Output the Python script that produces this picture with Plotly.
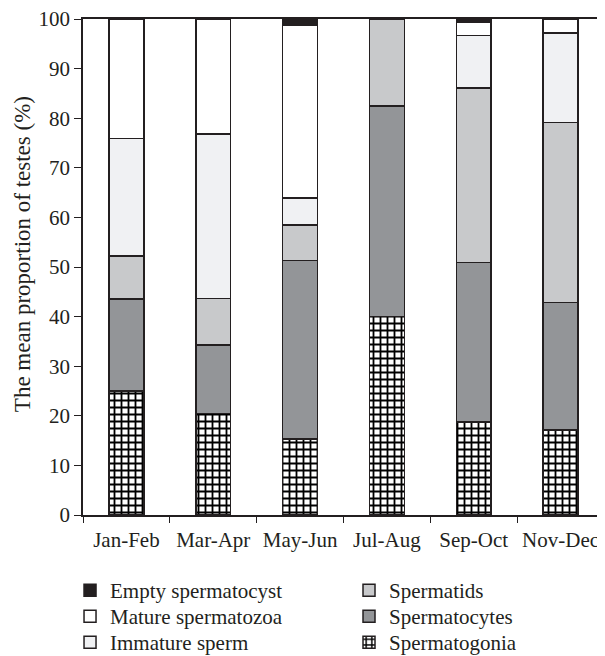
import plotly.graph_objects as go

categories = ["Jan-Feb", "Mar-Apr", "May-Jun", "Jul-Aug", "Sep-Oct", "Nov-Dec"]
spermatogonia = [25.0, 20.5, 15.3, 40.0, 18.8, 17.1]
spermatocytes = [18.5, 13.8, 36.0, 42.5, 32.1, 25.7]
spermatids = [8.7, 9.4, 7.2, 17.5, 35.2, 36.3]
immature_sperm = [23.7, 33.1, 5.4, 0.0, 10.6, 18.1]
mature_spermatozoa = [24.1, 23.2, 34.9, 0.0, 2.6, 2.8]
empty_spermatocyst = [0.0, 0.0, 1.2, 0.0, 0.7, 0.0]

edge = "#231f20"
font_family = "Liberation Serif"

# name, values, fill, legend id, patterned
series = [
    ("Spermatogonia", spermatogonia, "#ffffff", "legend6", True),
    ("Spermatocytes", spermatocytes, "#939598", "legend5", False),
    ("Spermatids", spermatids, "#c8c9cb", "legend4", False),
    ("Immature sperm", immature_sperm, "#f0f1f3", "legend3", False),
    ("Mature spermatozoa", mature_spermatozoa, "#ffffff", "legend2", False),
    ("Empty spermatocyst", empty_spermatocyst, edge, "legend", False),
]

fig = go.Figure()
for name, vals, color, leg, patterned in series:
    marker = dict(color=color, line=dict(color=edge, width=1.5))
    if patterned:
        marker["pattern"] = dict(shape="+", fgcolor="#000000", bgcolor="#ffffff",
                                 size=7, solidity=0.45, fillmode="replace")
    fig.add_trace(go.Bar(
        x=categories, y=vals, name=name, marker=marker,
        legend=leg, width=0.4, hoverinfo="skip",
    ))

legend_font = dict(size=21, family=font_family, color="#231f20")
col_x = [0.1039, 0.5712]
row_y = [0.1327, 0.0926, 0.0525]
legend_ids = ["legend", "legend2", "legend3", "legend4", "legend5", "legend6"]
legend_layout = {}
for i, lid in enumerate(legend_ids):
    legend_layout[lid] = dict(
        xref="container", yref="container",
        x=col_x[i // 3], y=row_y[i % 3], xanchor="left", yanchor="top",
        orientation="v", font=legend_font, bgcolor="rgba(0,0,0,0)",
    )

fig.update_layout(
    barmode="stack",
    width=597, height=648,
    margin=dict(l=75, r=1, t=11, b=141, autoexpand=False),
    paper_bgcolor="white", plot_bgcolor="white",
    font=dict(family=font_family, size=20, color="#231f20"),
    showlegend=True,
    annotations=[dict(
        text="The mean proportion of testes (%)", textangle=-90,
        xref="paper", yref="paper", x=-0.117, y=0.526,
        xanchor="center", yanchor="middle", showarrow=False,
        font=dict(size=23, family=font_family, color="#231f20"),
    )],
    **legend_layout,
)
fig.update_xaxes(
    showline=True, linecolor=edge, linewidth=1.5, mirror=True,
    ticks="outside", tickson="boundaries", ticklen=6, tickcolor=edge,
    showgrid=False, tickfont=dict(size=21), automargin=False,
    ticklabelstandoff=5, ticklabeloverflow="allow",
)
fig.update_yaxes(
    range=[0, 100], dtick=10, showline=True, linecolor=edge, linewidth=1.5,
    mirror=True, ticks="outside", ticklen=7, tickcolor=edge, showgrid=False,
    zeroline=False, tickfont=dict(size=21), automargin=False,
    ticklabeloverflow="allow",
)

fig.write_html("out.html")
